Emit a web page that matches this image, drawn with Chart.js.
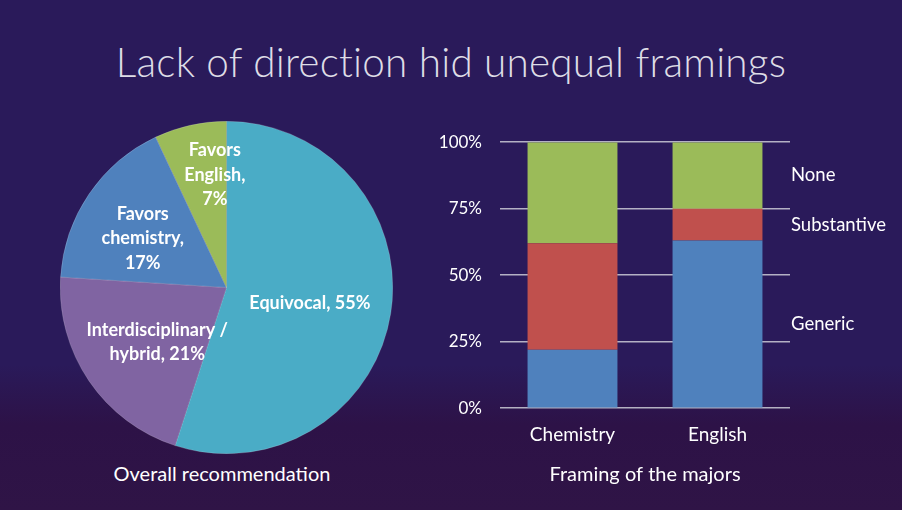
<!DOCTYPE html>
<html>
<head>
<meta charset="utf-8">
<script src="https://cdn.jsdelivr.net/npm/chart.js@4"></script>
<style>
  html, body { margin: 0; padding: 0; }
  body {
    width: 902px; height: 510px; overflow: hidden; position: relative;
    background: linear-gradient(to bottom, #2a1a5a 0px, #2a1a5a 365px, #2d1247 425px, #2f1446 510px);
    font-family: Lato, "Open Sans", sans-serif;
  }
  #title {
    position: absolute; left: 0; top: 37px; width: 902px; text-align: center;
    color: #dedde6; font-size: 40.5px; font-weight: 300; letter-spacing: 0.2px;
  }
  #pieWrap { position: absolute; left: 60px; top: 121px; width: 333px; height: 333px; }
  #pieCaption {
    position: absolute; left: 22px; top: 461px; width: 400px; text-align: center;
    color: #fff; font-size: 20px;
  }
  #barWrap { position: absolute; left: 420px; top: 114px; width: 480px; height: 373px; }
</style>
</head>
<body>
<div id="title">Lack of direction hid unequal framings</div>
<div id="pieWrap"><canvas id="pieChart" width="333" height="333"></canvas></div>
<div id="pieCaption">Overall recommendation</div>
<div id="barWrap"><canvas id="barChart" width="480" height="373"></canvas></div>
<script>
// pie: overall recommendation (clockwise from 12 o'clock)
const pieLabels = ['Equivocal', 'Interdisciplinary / hybrid', 'Favors chemistry', 'Favors English'];
const pieValues = [55, 21, 17, 7];
const pieTextLines = [
  ['Equivocal, 55%'],
  ['Interdisciplinary /', 'hybrid, 21%'],
  ['Favors', 'chemistry,', '17%'],
  ['Favors', 'English,', '7%']
];

// stacked bars: framing of the majors
const majors = ['Chemistry', 'English'];
const genericVals = [22, 63];
const substantiveVals = [40, 12];
const noneVals = [38, 25];
const yTicks = [0, 25, 50, 75, 100];

const white = '#ffffff';
const labelFont = 'Lato, "Open Sans", sans-serif';

// label placement as fraction of radius, plus small nudges
const pieLabelSpots = [
  { r: 0.52, dx: -2, dy: 2 },
  { r: 0.54, dx: 5, dy: 4 },
  { r: 0.58, dx: -4, dy: 5 },
  { r: 0.68, dx: 13, dy: -2 }
];

const pieLabelPlugin = {
  id: 'pieLabels',
  afterDatasetsDraw(chart) {
    const ctx = chart.ctx;
    const meta = chart.getDatasetMeta(0);
    ctx.save();
    ctx.fillStyle = white;
    ctx.font = 'bold 18px ' + labelFont;
    ctx.textAlign = 'center';
    ctx.textBaseline = 'middle';
    meta.data.forEach((arc, i) => {
      const mid = (arc.startAngle + arc.endAngle) / 2;
      const spot = pieLabelSpots[i];
      const x = arc.x + Math.cos(mid) * arc.outerRadius * spot.r + spot.dx;
      const y = arc.y + Math.sin(mid) * arc.outerRadius * spot.r + spot.dy;
      const lines = pieTextLines[i];
      const lh = 24.5;
      lines.forEach((t, j) => {
        ctx.fillText(t, x, y + (j - (lines.length - 1) / 2) * lh);
      });
    });
    ctx.restore();
  }
};

new Chart(document.getElementById('pieChart').getContext('2d'), {
  type: 'pie',
  data: {
    labels: pieLabels,
    datasets: [{
      data: pieValues,
      backgroundColor: ['#4aacc6', '#8064a2', '#4f81bd', '#9bbb59'],
      borderColor: 'rgba(255,255,255,0.35)',
      borderWidth: 0.5
    }]
  },
  options: {
    responsive: false,
    animation: false,
    layout: { padding: 0 },
    plugins: { legend: { display: false }, tooltip: { enabled: false } }
  },
  plugins: [pieLabelPlugin]
});

// series names written beside the English bar, at each segment's middle
const sideLabelPlugin = {
  id: 'sideLabels',
  afterDatasetsDraw(chart) {
    const ctx = chart.ctx;
    const last = majors.length - 1;
    ctx.save();
    ctx.fillStyle = white;
    ctx.font = '18.5px ' + labelFont;
    ctx.textAlign = 'left';
    ctx.textBaseline = 'middle';
    chart.data.datasets.forEach((ds, i) => {
      const bar = chart.getDatasetMeta(i).data[last];
      const y = (bar.y + bar.base) / 2;
      ctx.fillText(ds.label, chart.chartArea.right + 1, y);
    });
    ctx.restore();
  }
};

new Chart(document.getElementById('barChart').getContext('2d'), {
  type: 'bar',
  data: {
    labels: majors,
    datasets: [
      { label: 'Generic', data: genericVals, backgroundColor: '#4f81bd' },
      { label: 'Substantive', data: substantiveVals, backgroundColor: '#c0504d' },
      { label: 'None', data: noneVals, backgroundColor: '#9bbb59' }
    ]
  },
  options: {
    responsive: false,
    animation: false,
    layout: { padding: { left: 0, right: 110, top: 0, bottom: 0 } },
    datasets: { bar: { categoryPercentage: 1, barPercentage: 0.62 } },
    plugins: { legend: { display: false }, tooltip: { enabled: false } },
    scales: {
      x: {
        stacked: true,
        grid: { display: false, drawTicks: false },
        border: { display: false },
        ticks: { color: white, font: { family: labelFont, size: 19 }, padding: 15 },
        title: {
          display: true, text: 'Framing of the majors', color: white,
          font: { family: labelFont, size: 20 }, padding: { top: 2, bottom: 0 }
        }
      },
      y: {
        stacked: true,
        min: 0, max: 100,
        afterFit(scale) { scale.width = 80; },
        afterBuildTicks(scale) { scale.ticks = yTicks.map(v => ({ value: v })); },
        grid: { color: 'rgba(205,205,215,0.85)', lineWidth: 1.5, drawTicks: false },
        border: { display: false },
        ticks: {
          color: white, font: { family: labelFont, size: 17 }, padding: 18,
          callback: v => v + '%'
        }
      }
    }
  },
  plugins: [sideLabelPlugin]
});
</script>
</body>
</html>
